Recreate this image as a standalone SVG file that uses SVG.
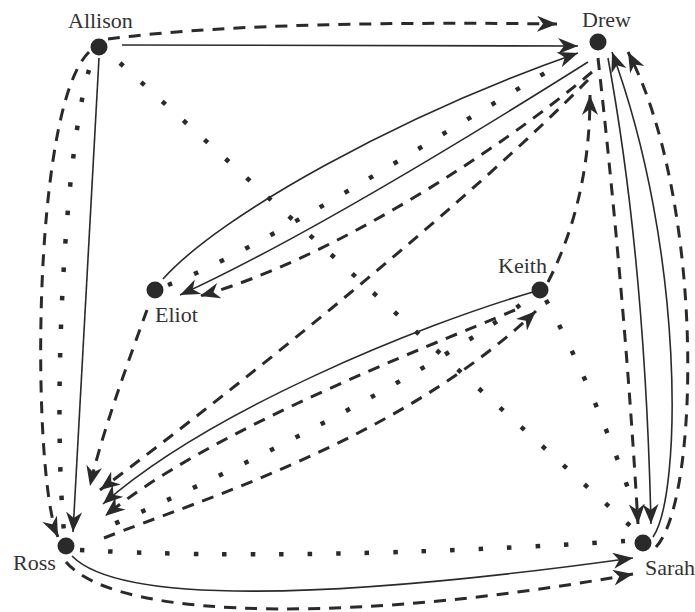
<svg xmlns="http://www.w3.org/2000/svg" width="695" height="612" viewBox="0 0 695 612">
<style>
.bg{fill:#fff}
.node circle{fill:#2a2a2a}
.node text{font-size:22px;fill:#333}
.e{fill:none;stroke:#2a2a2a}
.solid{stroke-width:1.6}
.dash{stroke-width:3;stroke-dasharray:12 9}
.dot{stroke-width:4.5;stroke-dasharray:4.5 24}
.arr{marker-end:url(#ah)}
</style>
<defs>
<marker id="ah" markerWidth="22" markerHeight="18" refX="20" refY="8" orient="auto" markerUnits="userSpaceOnUse">
<path d="M0,0 L20,8 L0,16 L6,8 Z" fill="#2a2a2a"/>
</marker>
</defs>
<rect class="bg" x="0" y="0" width="695" height="612"/>
<g id="connectors">
<path class="e solid arr" d="M122,45 L578,46"/>
<path class="e dash arr" d="M108,39 Q250,20 557,24"/>
<path class="e solid arr" d="M99,58 L73,532"/>
<path class="e dash arr" d="M89,52 C30,110 32,480 58,537"/>
<path class="e dot" d="M89,70 C65,150 52,400 64,532"/>
<path class="e dot" d="M120,63 L637,532"/>
<path class="e dot" d="M546,300 Q600,400 642,530"/>
<path class="e dot" d="M80,550 Q300,562 625,541"/>
<path class="e solid arr" d="M72,556 C120,605 330,600 633,558"/>
<path class="e dash arr" d="M66,562 C120,625 380,620 633,574"/>
<path class="e dash arr" d="M598,58 Q625,300 638,524"/>
<path class="e solid arr" d="M608,58 Q645,260 651,524"/>
<path class="e solid arr" d="M653,537 C682,495 685,250 612,52"/>
<path class="e dash arr" d="M656,547 C700,500 705,200 628,52"/>
<path class="e dash arr" d="M548,282 Q590,200 590,95"/>
<path class="e solid arr" d="M163,279 C220,215 400,115 578,53"/>
<path class="e solid arr" d="M588,62 C480,130 300,240 180,295"/>
<path class="e dash arr" d="M592,72 C500,150 330,260 200,296"/>
<path class="e dot" d="M168,285 C260,250 430,140 550,70"/>
<path class="e dash arr" d="M147,310 C125,370 100,440 90,486"/>
<path class="e dash arr" d="M588,80 C470,200 260,370 100,490"/>
<path class="e solid arr" d="M533,292 C420,325 210,410 103,504"/>
<path class="e dash arr" d="M515,310 C420,350 210,430 105,516"/>
<path class="e dot" d="M520,305 C430,372 240,470 100,530"/>
<path class="e dash arr" d="M104,538 C200,500 400,440 536,311"/>
</g>
<g id="Allison" class="node"><circle cx="99" cy="47" r="8.5"/><text x="68" y="28" font-family="Liberation Serif, Times New Roman, DejaVu Serif, serif">Allison</text></g>
<g id="Drew" class="node"><circle cx="598" cy="42" r="8.5"/><text x="582" y="27" font-family="Liberation Serif, Times New Roman, DejaVu Serif, serif">Drew</text></g>
<g id="Eliot" class="node"><circle cx="155" cy="290" r="8.5"/><text x="155" y="322" font-family="Liberation Serif, Times New Roman, DejaVu Serif, serif">Eliot</text></g>
<g id="Keith" class="node"><circle cx="540" cy="290" r="8.5"/><text x="498" y="273" font-family="Liberation Serif, Times New Roman, DejaVu Serif, serif">Keith</text></g>
<g id="Ross" class="node"><circle cx="66" cy="546" r="8.5"/><text x="13" y="570" font-family="Liberation Serif, Times New Roman, DejaVu Serif, serif">Ross</text></g>
<g id="Sarah" class="node"><circle cx="643" cy="543" r="8.5"/><text x="645" y="575" font-family="Liberation Serif, Times New Roman, DejaVu Serif, serif">Sarah</text></g>
</svg>
